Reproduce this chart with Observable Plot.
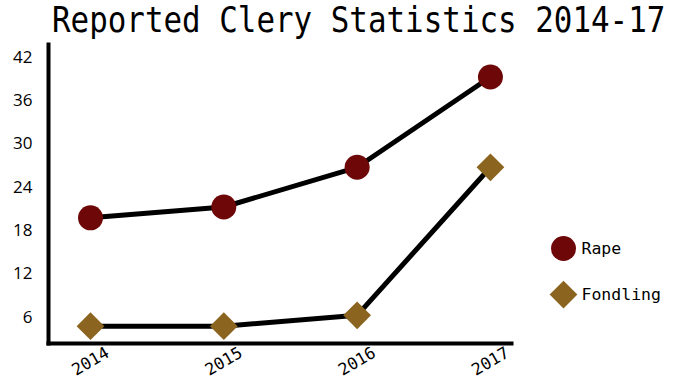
<!DOCTYPE html>
<html><head><meta charset="utf-8">
<script src="https://cdn.jsdelivr.net/npm/d3@7"></script>
<script src="https://cdn.jsdelivr.net/npm/@observablehq/plot@0.6"></script>
<style>
body{margin:0;background:#fff;}
#wrap{position:relative;width:678px;height:381px;overflow:hidden;font-family:"DejaVu Sans Mono",monospace;background:#fff;}
#title{position:absolute;left:52px;top:3px;font-size:35px;line-height:35px;white-space:nowrap;transform:scaleX(0.882);transform-origin:0 0;color:#000;}
#legend{position:absolute;left:530px;top:220px;line-height:0;}
#chart svg g[aria-label="y-axis tick label"] { font-family: "Open Sans", sans-serif; font-size: 17px; }
#chart svg g[aria-label="x-axis tick label"] { font-size: 16.5px; }
</style></head><body>
<div id="wrap"><div id="chart"></div><div id="title">Reported Clery Statistics 2014-17</div><div id="legend"></div></div>
<script>
const years = [2014, 2015, 2016, 2017];
const seriesNames = ["Rape", "Fondling"];
const rapeCounts = [19.5, 21, 26.5, 39];
const fondlingCounts = [4.5, 4.5, 6, 26.5];
const yTicks = [6, 12, 18, 24, 30, 36, 42];
const seriesColors = ["#6e0808", "#8b6420"];
const seriesSymbols = ["circle", "diamond2"];

const rows = [
  ...years.map((y, i) => ({year: y, value: rapeCounts[i], name: seriesNames[0]})),
  ...years.map((y, i) => ({year: y, value: fondlingCounts[i], name: seriesNames[1]}))
];

const colorScale = {domain: seriesNames, range: seriesColors};
const symbolScale = {domain: seriesNames, range: seriesSymbols};

const chart = Plot.plot({
  width: 678, height: 381,
  marginTop: 44, marginBottom: 38, marginLeft: 48, marginRight: 167,
  style: {fontFamily: "'DejaVu Sans Mono', monospace", fontSize: "16.5px", background: "white", color: "black"},
  x: {domain: [2013.685, 2017.158]},
  y: {domain: [2.1, 43.5]},
  color: colorScale,
  symbol: symbolScale,
  marks: [
    Plot.axisY({ticks: yTicks, tickSize: 0, tickPadding: 16, label: null, fontSize: 17, dy: 2}),
    Plot.axisX({ticks: years, tickFormat: d => String(d), tickSize: 0, tickPadding: 18, tickRotate: -30, textAnchor: "middle", lineAnchor: "middle", label: null, fontSize: 16.5}),
    Plot.frame({anchor: "left", strokeWidth: 4, stroke: "black"}),
    Plot.frame({anchor: "bottom", strokeWidth: 4, stroke: "black"}),
    Plot.line(rows, {x: "year", y: "value", z: "name", stroke: "black", strokeWidth: 5}),
    Plot.dot(rows, {x: "year", y: "value", fill: "name", symbol: "name", r: 12.5, stroke: "none"})
  ]
});
document.getElementById("chart").appendChild(chart);

const legend = Plot.plot({
  width: 148, height: 100, margin: 0,
  style: {fontFamily: "'DejaVu Sans Mono', monospace", background: "transparent", color: "black"},
  x: {axis: null, domain: [0, 1]},
  y: {axis: null, type: "point", padding: 0, domain: seriesNames, range: [28, 74]},
  color: colorScale,
  symbol: symbolScale,
  marks: [
    Plot.dot(seriesNames, {y: d => d, frameAnchor: "left", dx: 33, fill: d => d, symbol: d => d, r: 12.5, stroke: "none"}),
    Plot.text(seriesNames, {y: d => d, text: d => d, frameAnchor: "left", dx: 51, textAnchor: "start", fontSize: 16.5, fill: "black"})
  ]
});
document.getElementById("legend").appendChild(legend);
</script>
</body></html>
